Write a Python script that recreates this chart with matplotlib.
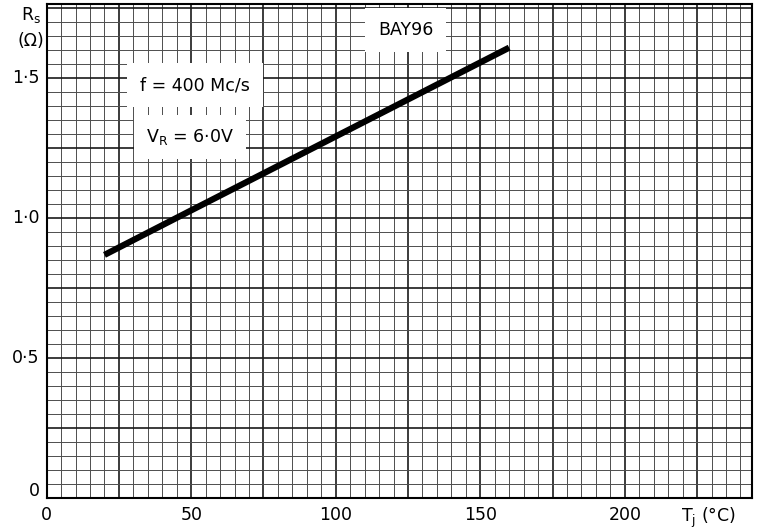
import matplotlib.pyplot as plt
from matplotlib.ticker import MultipleLocator

# curve
tj = [20, 50, 100, 160]
rs = [0.867, 1.026, 1.29, 1.607]

x_ticks = [0, 50, 100, 150, 200]
x_labels = ["0", "50", "100", "150", "200"]
y_ticks = [0, 0.5, 1.0, 1.5]
y_labels = ["0", "0·5", "1·0", "1·5"]

plt.rcParams['font.family'] = ['DejaVu Sans']
fs = 12.5

fig = plt.figure(figsize=(7.65, 5.32), dpi=100)
ax = fig.add_axes([0.061, 0.0645, 0.922, 0.9275])

ax.set_xlim(0, 244)
ax.set_ylim(0, 1.762)

# graph paper grid
ax.xaxis.set_minor_locator(MultipleLocator(5))
ax.yaxis.set_minor_locator(MultipleLocator(0.05))
ax.set_xticks([25 * i for i in range(10)])
ax.set_yticks([0.25 * i for i in range(8)])
ax.grid(which='minor', color='0.3', lw=0.7)
ax.grid(which='major', color='0.1', lw=1.2)
ax.tick_params(which='both', length=0, labelbottom=False, labelleft=False)
for s in ax.spines.values():
    s.set_linewidth(1.5)

ax.plot(tj, rs, color='black', lw=4.5, solid_capstyle='butt', zorder=5)

# tick labels as text so the grid can stay at 25 / 0.25 spacing
for v, lab in zip(x_ticks, x_labels):
    ax.text(v, -0.03, lab, ha='center', va='top', fontsize=fs, clip_on=False)
for v, lab in zip(y_ticks, y_labels):
    ax.text(-2.5, v + (0.025 if v == 0 else 0), lab, ha='right', va='center',
            fontsize=fs, clip_on=False)

ax.text(229, -0.03, r"T$_\mathregular{j}$ (°C)", ha='center', va='top', fontsize=fs, clip_on=False)
fig.text(0.04, 0.972, r"R$_\mathregular{s}$", ha='center', va='center', fontsize=fs)
fig.text(0.04, 0.922, "(Ω)", ha='center', va='center', fontsize=fs)

fig.text(0.53, 0.944, "BAY96", ha='center', va='center', fontsize=fs,
         bbox=dict(facecolor='white', edgecolor='none', boxstyle='square,pad=0.75'), zorder=10)
fig.text(0.255, 0.84, "f = 400 Mc/s", ha='center', va='center', fontsize=fs,
         bbox=dict(facecolor='white', edgecolor='none', boxstyle='square,pad=0.75'), zorder=10)
fig.text(0.248, 0.742, r"V$_\mathregular{R}$ = 6·0V", ha='center', va='center', fontsize=fs,
         bbox=dict(facecolor='white', edgecolor='none', boxstyle='square,pad=0.7'), zorder=10)

fig.savefig("out.png", dpi=100)
